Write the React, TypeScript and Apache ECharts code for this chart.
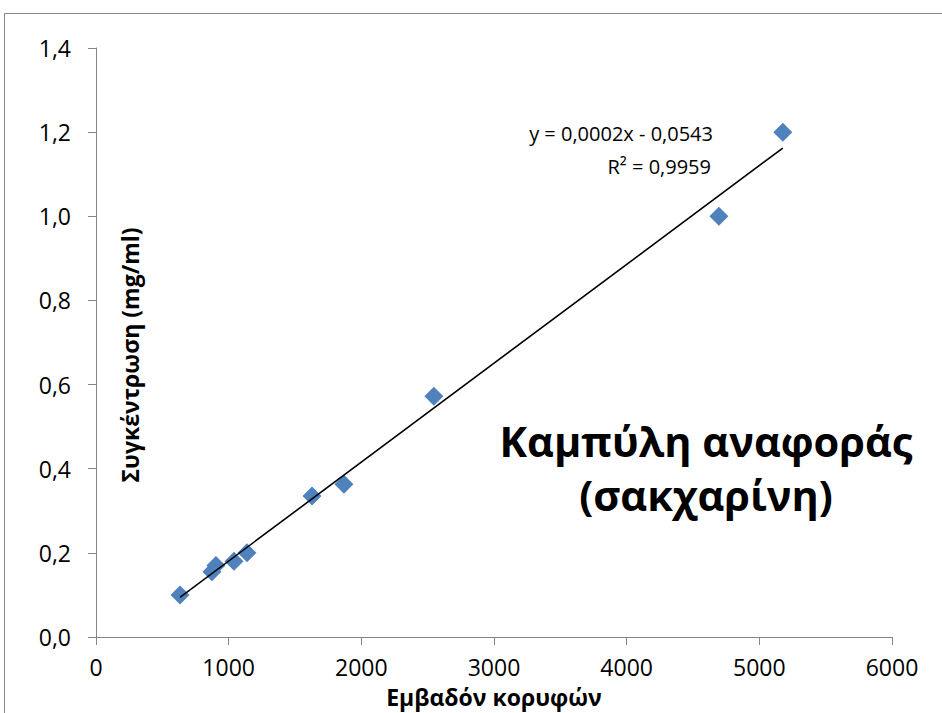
import React, { useEffect, useRef } from "react";
import * as echarts from "echarts";

const peakAreas = [633, 874, 904, 1040, 1138, 1628, 1869, 2547, 4695, 5177];
const concentrations = [0.1, 0.155, 0.17, 0.18, 0.2, 0.335, 0.363, 0.572, 1.0, 1.2];
const equationText = "y = 0,0002x - 0,0543";
const r2Text = "R² = 0,9959";
const titleLine1 = "Καμπύλη αναφοράς";
const titleLine2 = "(σακχαρίνη)";
const xAxisTitle = "Εμβαδόν κορυφών";
const yAxisTitle = "Συγκέντρωση (mg/ml)";

const FONT = "'Open Sans', sans-serif";

function linearFit(xs: number[], ys: number[]) {
  const n = xs.length;
  const mx = xs.reduce((a, b) => a + b, 0) / n;
  const my = ys.reduce((a, b) => a + b, 0) / n;
  let sxy = 0;
  let sxx = 0;
  for (let i = 0; i < n; i++) {
    sxy += (xs[i] - mx) * (ys[i] - my);
    sxx += (xs[i] - mx) * (xs[i] - mx);
  }
  const slope = sxy / sxx;
  return { slope, intercept: my - slope * mx };
}

export default function App() {
  const ref = useRef<HTMLDivElement>(null);
  useEffect(() => {
    if (!ref.current) return;
    const chart = echarts.init(ref.current, null, { renderer: "svg" });
    const fit = linearFit(peakAreas, concentrations);
    const xMin = Math.min(...peakAreas);
    const xMax = Math.max(...peakAreas);
    const trend = [
      [xMin, fit.intercept + fit.slope * xMin],
      [xMax, fit.intercept + fit.slope * xMax],
    ];
    const axisColor = "#868686";
    chart.setOption({
      animation: false,
      backgroundColor: "#ffffff",
      grid: { left: 96, right: 50, top: 48, bottom: 76 },
      xAxis: {
        type: "value",
        min: 0,
        max: 6000,
        interval: 1000,
        name: xAxisTitle,
        nameLocation: "middle",
        nameGap: 48,
        nameTextStyle: { fontFamily: FONT, fontWeight: "bold", fontSize: 23, color: "#000" },
        axisLine: { show: true, onZero: false, lineStyle: { color: axisColor, width: 1 } },
        axisTick: { show: true, inside: false, length: 8, lineStyle: { color: axisColor } },
        splitLine: { show: false },
        axisLabel: {
          fontFamily: FONT,
          fontSize: 23,
          color: "#000",
          margin: 18,
          formatter: (v: number) => String(v),
        },
      },
      yAxis: {
        type: "value",
        min: 0,
        max: 1.4,
        interval: 0.2,
        axisLine: { show: true, onZero: false, lineStyle: { color: axisColor, width: 1 } },
        axisTick: { show: true, inside: false, length: 8, lineStyle: { color: axisColor } },
        splitLine: { show: false },
        axisLabel: {
          fontFamily: FONT,
          fontSize: 23,
          color: "#000",
          margin: 25,
          formatter: (v: number) => v.toFixed(1).replace(".", ","),
        },
      },
      series: [
        {
          type: "scatter",
          data: peakAreas.map((x, i) => [x, concentrations[i]]),
          symbol: "diamond",
          symbolSize: 19,
          itemStyle: { color: "#4F81BD", opacity: 1 },
          z: 2,
        },
        {
          type: "line",
          data: trend,
          showSymbol: false,
          symbol: "none",
          lineStyle: { color: "#000", width: 1.6 },
          z: 3,
        },
      ],
      graphic: [
        {
          type: "rect",
          shape: { x: 4.5, y: 13.5, width: 2000, height: 2000 },
          style: { fill: "none", stroke: "#878787", lineWidth: 1 },
          z: -1,
          silent: true,
        },
        {
          type: "text",
          x: 713,
          y: 133,
          style: {
            text: equationText,
            font: `20px ${FONT}`,
            fill: "#000",
            textAlign: "right",
            textVerticalAlign: "middle",
          },
        },
        {
          type: "text",
          x: 711,
          y: 166,
          style: {
            text: r2Text,
            font: `20px ${FONT}`,
            fill: "#000",
            textAlign: "right",
            textVerticalAlign: "middle",
          },
        },
        {
          type: "text",
          x: 706,
          y: 441,
          style: {
            text: titleLine1,
            font: `bold 41.5px ${FONT}`,
            fill: "#000",
            textAlign: "center",
            textVerticalAlign: "middle",
          },
        },
        {
          type: "text",
          x: 706,
          y: 495,
          style: {
            text: titleLine2,
            font: `bold 41.5px ${FONT}`,
            fill: "#000",
            textAlign: "center",
            textVerticalAlign: "middle",
          },
        },
        {
          type: "text",
          x: 130,
          y: 355,
          rotation: Math.PI / 2,
          style: {
            text: yAxisTitle,
            font: `bold 23px ${FONT}`,
            fill: "#000",
            textAlign: "center",
            textVerticalAlign: "middle",
          },
        },
      ],
    });
    return () => chart.dispose();
  }, []);
  return (
    <div
      ref={ref}
      style={{ position: "fixed", left: 0, top: 0, width: 942, height: 713, background: "#fff" }}
    />
  );
}
